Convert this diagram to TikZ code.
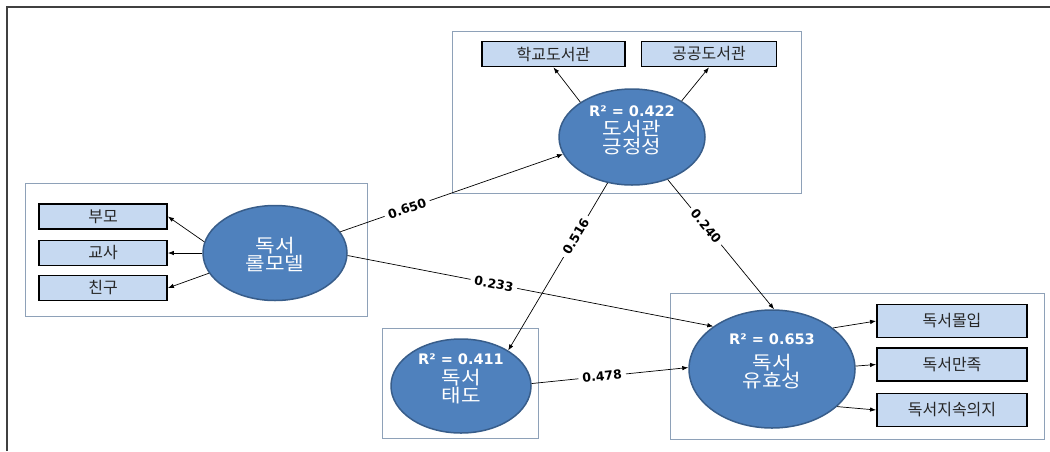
\documentclass[tikz,border=0pt]{standalone}
\usepackage{fontspec}
\usetikzlibrary{arrows.meta,shapes.geometric}
\newfontfamily\kr[FakeStretch=1.15]{Noto Sans CJK KR}
\newfontfamily\krbox{Noto Sans CJK KR}
\newfontfamily\num{DejaVu Sans Bold}
\definecolor{latfill}{HTML}{4F81BD}
\definecolor{latline}{HTML}{385D8A}
\definecolor{indfill}{HTML}{C6D9F1}
\definecolor{framecol}{HTML}{8EA1B8}
\definecolor{outercol}{HTML}{404040}
\newcommand{\rsq}[1]{{\num\fontsize{14.5}{14.5}\selectfont R² = #1}}
\begin{document}
\begin{tikzpicture}[x=1pt,y=-1pt,
    latent/.style={ellipse,draw=latline,line width=1.5pt,fill=latfill,inner sep=0pt},
    lattext/.style={text=white,align=center,font=\kr\fontsize{18.5}{18}\selectfont},
    indicator/.style={rectangle,draw=black,line width=1.8pt,fill=indfill,inner sep=0pt,
      text=black!85,font=\krbox\fontsize{16}{16}\selectfont},
    block/.style={draw=framecol,line width=1pt},
    link/.style={-{Latex[length=6pt,width=4.5pt]},line width=0.7pt},
    coef/.style={fill=white,inner xsep=4pt,inner ysep=1pt,sloped,
      font=\num\fontsize{12.5}{13}\selectfont}]
  \useasboundingbox (0,0) rectangle (1050,451);

  % Outer border (only top and left are shown)
  \draw[outercol,line width=2pt] (7,451) -- (7,6.5) -- (1050,6.5);

  % Blocks around each construct
  \draw[block] (452,31.5) rectangle (801,193);
  \draw[block] (25,183) rectangle (367,316);
  \draw[block] (382,328) rectangle (538,438);
  \draw[block] (670,293) rectangle (1044,439);

  % Latent constructs
  \node[latent,minimum width=146pt,minimum height=96pt] (G) at (632,137) {};
  \node[latent,minimum width=144pt,minimum height=95pt] (R) at (275,253) {};
  \node[latent,minimum width=140pt,minimum height=94pt] (A) at (461,386) {};
  \node[latent,minimum width=166pt,minimum height=118pt] (E) at (772,369) {};

  \node[lattext] (G-t) at (632,130) {\rsq{0.422}\\[1pt]도서관\\긍정성};
  \node[lattext] (R-t) at (275,254) {독서\\롤모델};
  \node[lattext] (A-t) at (461,379) {\rsq{0.411}\\[2pt]독서\\태도};
  \node[lattext] (E-t) at (772,361) {\rsq{0.653}\\[7pt]독서\\유효성};

  % Indicators
  \node[indicator,minimum width=143pt,minimum height=25pt] (s1) at (553.5,54) {학교도서관};
  \node[indicator,minimum width=135pt,minimum height=25pt] (s2) at (709,54) {공공도서관};
  \node[indicator,minimum width=128pt,minimum height=25pt] (r1) at (103,216.5) {부모};
  \node[indicator,minimum width=128pt,minimum height=25pt] (r2) at (103,253) {교사};
  \node[indicator,minimum width=128pt,minimum height=25pt] (r3) at (103,288) {친구};
  \node[indicator,minimum width=150pt,minimum height=33pt] (e1) at (952,321) {독서몰입};
  \node[indicator,minimum width=150pt,minimum height=33pt] (e2) at (952,364.5) {독서만족};
  \node[indicator,minimum width=150pt,minimum height=33pt] (e3) at (952,410) {독서지속의지};

  % Measurement arrows
  \draw[link] (G.146) -- (s1.south);
  \draw[link] (G.36) -- (s2.south);
  \draw[link] (R.171) -- (r1.east);
  \draw[link] (R.180) -- (r2.east);
  \draw[link] (R.197) -- (r3.east);
  \draw[link] (E.34) -- (e1.west);
  \draw[link] (E.2) -- (e2.west);
  \draw[link] (E.-30) -- (e3.west);

  % Path coefficients
  \draw[link] (R.18) -- (G.194) node[coef,pos=0.3] (c1) {0.650};
  \draw[link] (R.-2) -- (E.144) node[coef,pos=0.4] (c2) {0.233};
  \draw[link] (G.242) -- (A.37) node[coef,pos=0.32] (c3) {0.516};
  \draw[link] (G.-50) -- (E.88) node[coef,pos=0.36] (c4) {0.240};
  \draw[link] (A.2) -- (E.179) node[coef,pos=0.45] (c5) {0.478};
\end{tikzpicture}
\end{document}
